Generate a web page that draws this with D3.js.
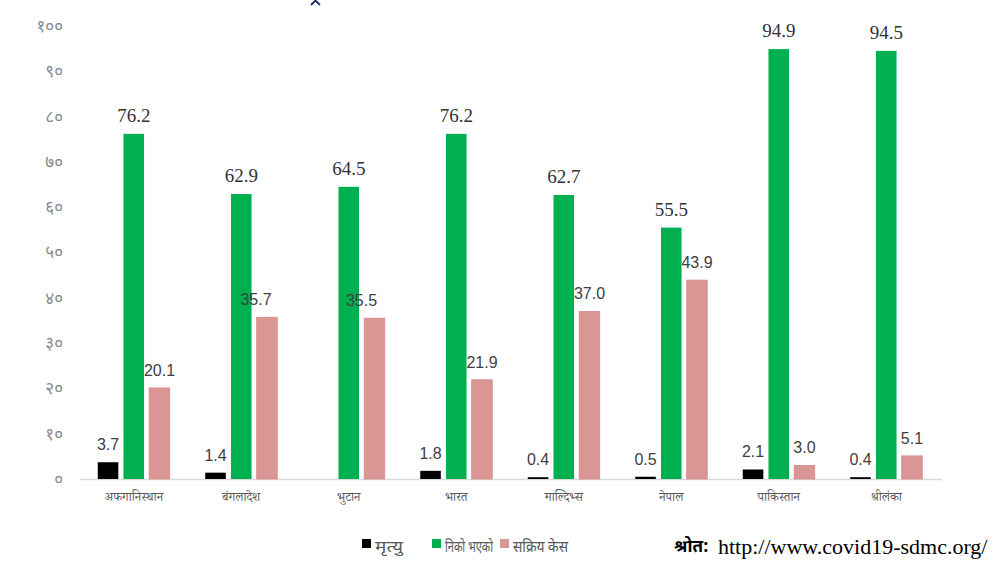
<!DOCTYPE html>
<html><head><meta charset="utf-8">
<script src="https://cdn.jsdelivr.net/npm/d3@7"></script>
<style>body{margin:0;background:#fff}svg{display:block}</style>
</head><body>
<svg id="c" width="1000" height="584"></svg>
<script>
const categories = ["अफगानिस्थान","बंगलादेश","भुटान","भारत","माल्दिभ्स","नेपाल","पाकिस्तान","श्रीलंका"];
const deaths    = [3.7, 1.4, 0, 1.8, 0.4, 0.5, 2.1, 0.4];
const recovered = [76.2, 62.9, 64.5, 76.2, 62.7, 55.5, 94.9, 94.5];
const active    = [20.1, 35.7, 35.5, 21.9, 37.0, 43.9, 3.0, 5.1];
const seriesNames = ["मृत्यु","निको भएको","सक्रिय केस"];
const yTicks = [0,10,20,30,40,50,60,70,80,90,100];
const devDigits = "०१२३४५६७८९";
const toDev = n => String(n).replace(/[0-9]/g, d => devDigits[+d]);
const sourceLabel = "श्रोत:";
const sourceUrl = "http://www.covid19-sdmc.org/";
const activeLabelShift = [0,-11,-13,0,0,0,0,0];

const colors = ["#000000","#00b050","#da9694"];
const svg = d3.select("#c");
const x0 = d3.scaleBand().domain(categories).range([80, 940]);
const x1 = d3.scaleBand().domain([0,1,2]).range([-36, 36]).paddingInner(0.2);
const y = d3.scaleLinear().domain([0,100]).range([479, 26]);
const devFont = "'Noto Sans Devanagari','Noto Sans',sans-serif";

// y axis labels
const yAxis = d3.axisLeft(y).tickValues(yTicks).tickSize(0).tickPadding(0).tickFormat(toDev);
const ga = svg.append("g").attr("transform","translate(63,0)").call(yAxis);
ga.select(".domain").remove();
ga.selectAll("text").attr("fill","#8a8a8a").attr("font-size","17px").attr("font-family",devFont);

// baseline
svg.append("line").attr("x1",80).attr("x2",942).attr("y1",y(0)+0.5).attr("y2",y(0)+0.5).attr("stroke","#d9d9d9").attr("stroke-width",1.5);

// x axis labels
const xAxis = d3.axisBottom(x0).tickSize(0).tickPadding(11);
const gx = svg.append("g").attr("transform",`translate(0,${y(0)+2})`).call(xAxis);
gx.select(".domain").remove();
gx.selectAll("text").attr("fill","#595959").attr("font-size","12.5px").attr("font-family","'Noto Serif Devanagari','Noto Sans',serif");

const allSeries = [deaths, recovered, active];
allSeries.forEach((vals, si) => {
  const g = svg.append("g");
  g.selectAll("rect").data(vals.map((v,i)=>({v,c:categories[i]}))).join("rect")
    .attr("x", d => x0(d.c) + x0.bandwidth()/2 + x1(si))
    .attr("width", x1.bandwidth())
    .attr("y", d => y(d.v))
    .attr("height", d => y(0) - y(d.v))
    .attr("fill", colors[si])
    .attr("stroke", si===2 ? "#d48a88" : "none").attr("stroke-width", 0.8);
  g.selectAll("text").data(vals.map((v,i)=>({v,c:categories[i],i})).filter(d=>d.v>0)).join("text")
    .attr("x", d => x0(d.c) + x0.bandwidth()/2 + x1(si) + x1.bandwidth()/2 + (si===2 ? activeLabelShift[d.i] : 0))
    .attr("y", d => y(d.v) - 12)
    .attr("text-anchor","middle")
    .attr("fill", si===1 ? "#333333" : "#404040")
    .attr("font-size", si===1 ? "19px" : "16px")
    .attr("font-family", si===1 ? "Liberation Serif, serif" : "Liberation Sans, sans-serif")
    .text(d => d.v.toFixed(1));
});

// legend
const legX = [362, 432, 500];
const legW = [28, 48, 55];
const leg = svg.append("g");
seriesNames.forEach((n,i)=>{
  leg.append("rect").attr("x",legX[i]).attr("y",539).attr("width",9).attr("height",9).attr("fill",colors[i]);
  leg.append("text").attr("x",legX[i]+13).attr("y",552).attr("fill","#595959")
    .attr("font-size","16px").attr("font-family",devFont)
    .attr("textLength",legW[i]).attr("lengthAdjust","spacingAndGlyphs").text(n);
});
svg.append("text").attr("x",674).attr("y",552).attr("fill","#000").attr("font-weight","bold")
  .attr("font-size","17px").attr("font-family",devFont).text(sourceLabel);
svg.append("text").attr("x",718).attr("y",554).attr("fill","#000")
  .attr("font-size","22px").attr("font-family","Liberation Serif, serif").text(sourceUrl);

// small caret artifact at top
svg.append("path").attr("d","M311,5 L315.5,0.5 L320,5").attr("fill","none").attr("stroke","#1f2d6b").attr("stroke-width",1.8);
</script>
</body></html>
